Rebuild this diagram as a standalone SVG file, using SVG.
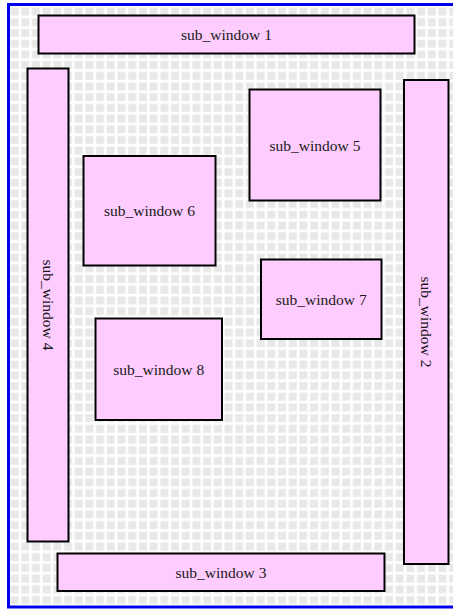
<svg xmlns="http://www.w3.org/2000/svg" width="453" height="609" viewBox="0 0 453 609">
<style>
.node rect{fill:#ffccff;stroke:#000;stroke-width:2}
.node text{font-family:"Liberation Serif","Times New Roman",serif;font-size:15.5px;fill:#1a1a1a;text-anchor:middle;dominant-baseline:central}
</style>
<defs>
<pattern id="grid" x="9" y="6" width="10.7" height="10.7" patternUnits="userSpaceOnUse">
<rect x="1.5" y="1.5" width="8" height="8" fill="#e8e8e8"/>
</pattern>
</defs>
<rect x="0" y="0" width="453" height="609" fill="#fff"/>
<rect x="8.5" y="4.5" width="460" height="602.5" fill="url(#grid)" stroke="#0000ee" stroke-width="3"/>
<g id="connectors"></g>
<g id="sub_window1" class="node"><rect x="38.5" y="15.5" width="376" height="38"/><text x="226.5" y="34.5">sub_window 1</text></g>
<g id="sub_window2" class="node"><rect x="404" y="80" width="44.5" height="484"/><text transform="translate(426.25,322) rotate(90)">sub_window 2</text></g>
<g id="sub_window3" class="node"><rect x="57.5" y="553.5" width="327" height="37.5"/><text x="221" y="572.25">sub_window 3</text></g>
<g id="sub_window4" class="node"><rect x="27.5" y="68.5" width="41" height="473"/><text transform="translate(48,305) rotate(90)">sub_window 4</text></g>
<g id="sub_window5" class="node"><rect x="249.5" y="89.5" width="131" height="111"/><text x="315" y="145">sub_window 5</text></g>
<g id="sub_window6" class="node"><rect x="83.5" y="156" width="132" height="109.5"/><text x="149.5" y="210.75">sub_window 6</text></g>
<g id="sub_window7" class="node"><rect x="261" y="259.5" width="120.5" height="79.5"/><text x="321.25" y="299.25">sub_window 7</text></g>
<g id="sub_window8" class="node"><rect x="95.5" y="318.5" width="126.5" height="101.5"/><text x="158.75" y="369.25">sub_window 8</text></g>
</svg>
